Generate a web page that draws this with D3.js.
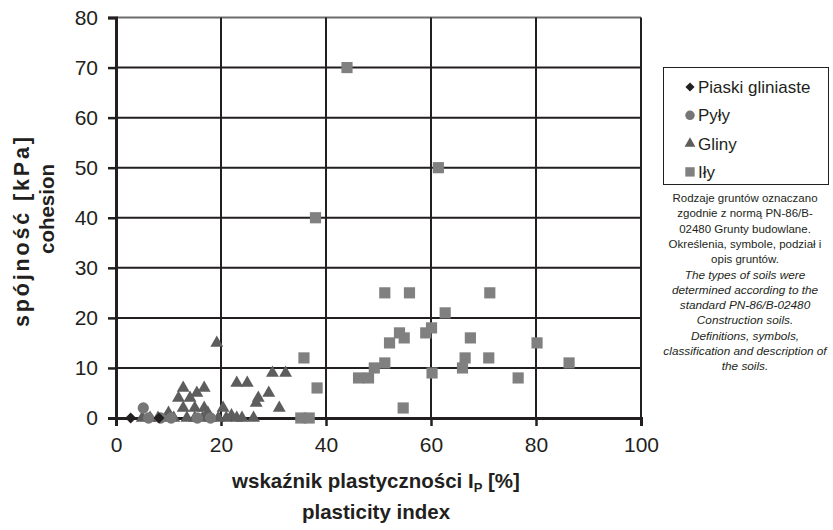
<!DOCTYPE html>
<html>
<head>
<meta charset="utf-8">
<script src="https://cdn.jsdelivr.net/npm/d3@7/dist/d3.min.js"></script>
<style>
  body { margin: 0; background: #fff; }
  text { font-family: "Liberation Sans", Arial, sans-serif; fill: #231f20; }
</style>
</head>
<body>
<svg id="chart" width="833" height="530"></svg>
<script>
// Piaski gliniaste
var piaskiX = [2.8, 8.2];
var piaskiY = [0, 0];
// Pyły
var pylyX = [5.2, 6.2, 8.5, 10.5, 15.5, 18];
var pylyY = [2, 0, 0, 0, 0, 0];
// Gliny
var glinyX = [19.2, 23, 25, 29.8, 32.3, 29.1, 27.1, 26.7, 31.1, 12.8, 16.8, 15.4, 11.9, 14.1, 12.8, 15, 16.8,
  20.4, 17.5, 10, 22, 24, 26.2, 21, 5, 6.5, 8, 9.5, 11, 13.5, 15, 16.5, 18, 19.5, 23];
var glinyY = [15, 7, 7, 9, 9, 5, 4, 3, 2, 6, 6, 5, 4, 4, 2, 2, 2,
  2, 1, 1, 0.5, 0, 0, 0, 0, 0, 0, 0, 0, 0, 0, 0, 0, 0, 0];
// Iły
var ilyX = [44, 61.4, 38, 51.2, 55.9, 71.2, 62.7, 60.1, 59, 54, 54.9, 52.1, 67.5, 80.2, 35.8, 66.5, 71, 51.2,
  86.3, 49.2, 66, 60.2, 48.1, 46.2, 76.6, 38.3, 54.7, 35.2, 36.8];
var ilyY = [70, 50, 40, 25, 25, 25, 21, 18, 17, 17, 16, 15, 16, 15, 12, 12, 12, 11,
  11, 10, 10, 9, 8, 8, 8, 6, 2, 0, 0];

var xTicks = [0, 20, 40, 60, 80, 100];
var yTicks = [0, 10, 20, 30, 40, 50, 60, 70, 80];

var legendLabels = ['Piaski gliniaste', 'Pyły', 'Gliny', 'Iły'];
var noteLinesPl = ['Rodzaje gruntów oznaczano', 'zgodnie z normą PN-86/B-', '02480 Grunty budowlane.',
  'Określenia, symbole, podział i', 'opis gruntów.'];
var noteLinesEn = ['The types of soils were', 'determined according to the', 'standard PN-86/B-02480',
  'Construction soils.', 'Definitions, symbols,', 'classification and description of', 'the soils.'];

var svg = d3.select('#chart');
var x = d3.scaleLinear().domain([0, 100]).range([116, 641]);
var y = d3.scaleLinear().domain([0, 80]).range([418, 17.5]);
var ink = '#231f20';

// grid
svg.append('g').selectAll('line').data(yTicks.slice(1)).enter().append('line')
  .attr('x1', x(0)).attr('x2', x(100))
  .attr('y1', function (d) { return y(d); }).attr('y2', function (d) { return y(d); })
  .style('stroke', function (d) { return d === 80 ? '#6d6d6d' : ink; }).style('stroke-width', 2);
svg.append('g').selectAll('line').data(xTicks.slice(1)).enter().append('line')
  .attr('x1', function (d) { return x(d); }).attr('x2', function (d) { return x(d); })
  .attr('y1', y(80)).attr('y2', y(0))
  .style('stroke', ink).style('stroke-width', 2);

// axes
var xAxis = svg.append('g').attr('transform', 'translate(0,' + y(0) + ')')
  .call(d3.axisBottom(x).tickValues(xTicks).tickSize(8).tickPadding(6));
var yAxis = svg.append('g').attr('transform', 'translate(' + x(0) + ',0)')
  .call(d3.axisLeft(y).tickValues(yTicks).tickSize(8).tickPadding(10));
[xAxis, yAxis].forEach(function (a) {
  a.select('.domain').style('stroke', ink).style('stroke-width', 3);
  a.selectAll('.tick line').style('stroke', ink).style('stroke-width', 2.5);
  a.selectAll('.tick text').style('font-size', '21px').style('font-family', '"Liberation Sans", Arial, sans-serif').style('fill', ink);
});
xAxis.selectAll('.tick text').attr('dy', '0.95em');

// markers
function pts(xs, ys) {
  return xs.map(function (v, i) { return [v, ys[i]]; });
}
var sym = [
  { data: pts(ilyX, ilyY), type: d3.symbolSquare, size: 125, color: '#808080', rot: 0 },
  { data: pts(glinyX, glinyY), type: d3.symbolTriangle, size: 72, color: '#5d5d5d', rot: 0 },
  { data: pts(pylyX, pylyY), type: d3.symbolCircle, size: 100, color: '#767676', rot: 0 },
  { data: pts(piaskiX, piaskiY), type: d3.symbolSquare, size: 60, color: ink, rot: 45 }
];
sym.forEach(function (s) {
  svg.append('g').selectAll('path').data(s.data).enter().append('path')
    .attr('d', d3.symbol().type(s.type).size(s.size))
    .attr('transform', function (d) { return 'translate(' + x(d[0]) + ',' + y(d[1]) + ') rotate(' + s.rot + ')'; })
    .style('fill', s.color);
});

// legend
var leg = svg.append('g');
leg.append('rect').attr('x', 663.5).attr('y', 67.5).attr('width', 165).attr('height', 117)
  .style('fill', '#fff').style('stroke', ink).style('stroke-width', 1);
var legSym = [sym[3], sym[2], sym[1], sym[0]];
legendLabels.forEach(function (lab, i) {
  var ly = 87 + i * 28.3;
  leg.append('path')
    .attr('d', d3.symbol().type(legSym[i].type).size(legSym[i].size * 0.7))
    .attr('transform', 'translate(690,' + ly + ') rotate(' + legSym[i].rot + ')')
    .style('fill', legSym[i].color);
  leg.append('text').attr('x', 698).attr('y', ly + 6).style('font-size', '17px').text(lab);
});

// note
var note = svg.append('g').attr('text-anchor', 'middle');
noteLinesPl.concat(noteLinesEn).forEach(function (line, i) {
  var it = i >= noteLinesPl.length;
  note.append('text').attr('x', 745).attr('y', 202 + i * 15.3)
    .style('font-size', it ? '11.8px' : '11.5px')
    .style('font-style', it ? 'italic' : 'normal')
    .text(line);
});

// axis titles
var xt = svg.append('text').attr('x', 376).attr('y', 488).attr('text-anchor', 'middle')
  .style('font-size', '20.5px').style('font-weight', 'bold');
xt.append('tspan').text('wskaźnik plastyczności I');
xt.append('tspan').attr('dy', 4).style('font-size', '13px').text('P');
xt.append('tspan').attr('dy', -4).text(' [%]');
svg.append('text').attr('x', 376).attr('y', 519).attr('text-anchor', 'middle')
  .style('font-size', '20.5px').style('font-weight', 'bold').text('plasticity index');

var yt = svg.append('g').attr('transform', 'rotate(-90)');
yt.append('text').attr('x', -232).attr('y', 29).attr('text-anchor', 'middle')
  .attr('textLength', 190).attr('lengthAdjust', 'spacing')
  .style('font-size', '21.5px').style('font-weight', 'bold').text('spójność [kPa]');
yt.append('text').attr('x', -209).attr('y', 54).attr('text-anchor', 'middle')
  .style('font-size', '20.5px').style('font-weight', 'bold').text('cohesion');
</script>
</body>
</html>
